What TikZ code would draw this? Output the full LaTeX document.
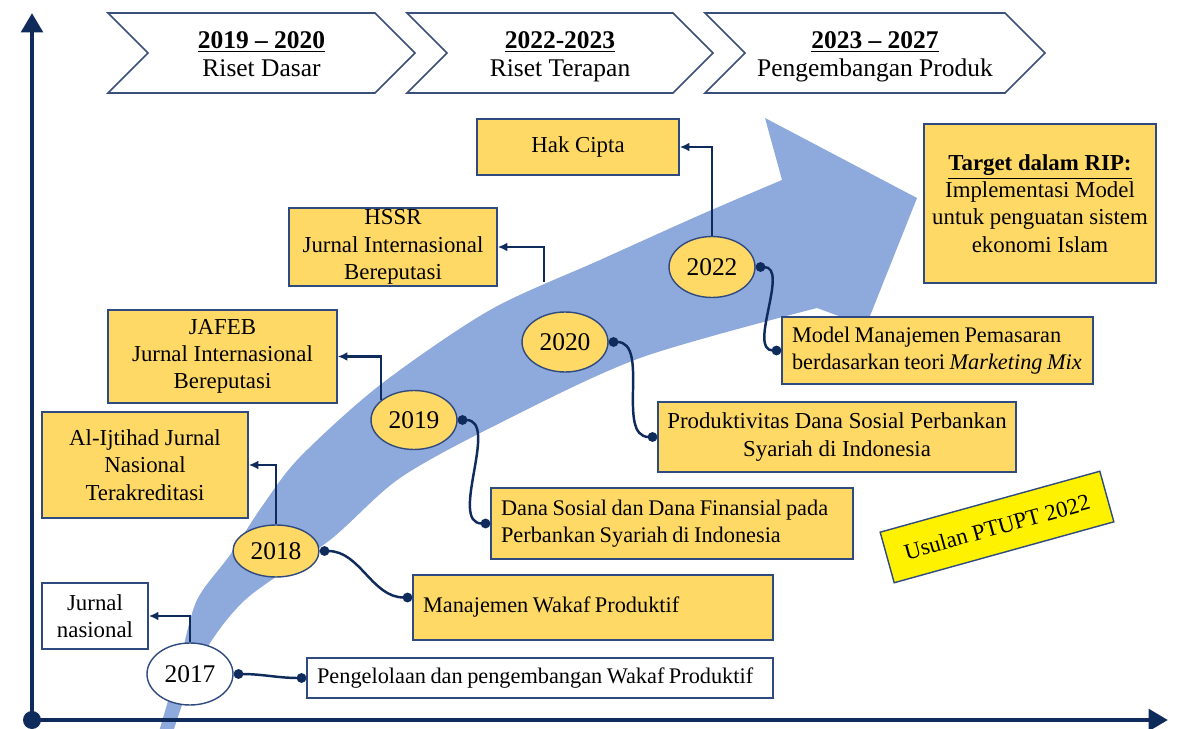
\documentclass[tikz,border=0pt]{standalone}
\usepackage{fontspec}
\setmainfont{Liberation Serif}
\usetikzlibrary{shapes.geometric,arrows.meta,calc}

\definecolor{navy}{HTML}{0F2B5B}
\definecolor{boxline}{HTML}{2F4A7F}
\definecolor{gold}{HTML}{FFD966}
\definecolor{bandblue}{HTML}{8EA9DB}
\definecolor{chevline}{HTML}{3A4F7A}
\newcommand\tightsp{\spaceskip=0.2em\relax}

\begin{document}
\begin{tikzpicture}[x=0.02cm,y=-0.02cm,
    chev/.style={draw=chevline,line width=0.9pt,fill=white},
    year/.style={ellipse,draw=boxline,line width=0.8pt,fill=gold,minimum width=1.72cm,
                 minimum height=1.2cm,inner sep=0pt,font=\fontsize{14.5}{16}\selectfont},
    box/.style={draw=boxline,line width=0.8pt,fill=gold,align=center,inner sep=0pt,
                font=\fontsize{13}{15.5}\selectfont},
    lbox/.style={box,align=left,inner xsep=0.2cm,font=\fontsize{12.7}{15.5}\selectfont,
                 execute at begin node=\tightsp},
    axis/.style={draw=navy,line width=2.8pt,-{Triangle[length=11pt,width=12pt]}}]
\useasboundingbox (0,0) rectangle (1193,729);

% big curved arrow
\fill[bandblue] plot[smooth,tension=0.5] coordinates {(158,735) (180,660) (197,600) (230,555)
      (263,505) (300,457) (380,385) (490,310) (600,260) (700,215) (782,180)}
    -- (765,118) -- (917,198) -- (866,326) -- (817,308)
    -- plot[smooth,tension=0.5] coordinates {(817,308) (640,358) (500,423) (400,478)
      (330,540) (245,600) (200,660) (172,735)} -- cycle;

% axes
\node[circle,fill=navy,minimum size=0.36cm,inner sep=0pt] (O) at (32,720) {};
\coordinate (yend) at (32,13);
\coordinate (xend) at (1168,720);
\draw[axis] (O.center) -- (yend);
\draw[axis] (O.center) -- (xend);

% stages
\foreach \xl/\xr/\txt in {108/375/{\underline{\textbf{2019 – 2020}}\\Riset Dasar\strut},
                          407/673/{\underline{\textbf{2022-2023}}\\Riset Terapan\strut},
                          705/1005/{\underline{\textbf{2023 – 2027}}\\Pengembangan Produk\strut}}
  \draw[chev] (\xl,13) -- (\xr,13) -- (\xr+40,53) -- (\xr,93) -- (\xl,93) -- (\xl+40,53) -- cycle
    node[align=center,font=\fontsize{14.5}{16}\selectfont] at ({(\xl+\xr+40)/2},58) {\txt};

\begin{scope}[every node/.style={year}]
    \node (y17)[fill=white,minimum height=1.24cm] at (190,674) {2017};
    \node (y18)[minimum height=1.04cm] at (276,551) {2018};
    \node (y19)[minimum height=1.18cm] at (414,420) {2019};
    \node (y20) at (565,342) {2020};
    \node (y22)[minimum height=1.22cm] at (712,267) {2022};
\end{scope}

\begin{scope}[every node/.style={box}]
    \node (jn)[fill=white,minimum width=2.12cm,minimum height=1.32cm] at (95,616) {Jurnal\\nasional};
    \node (alij)[minimum width=4.12cm,minimum height=2.12cm] at (145,465) {Al-Ijtihad Jurnal\\Nasional\\Terakreditasi};
    \node (jafeb)[minimum width=4.58cm,minimum height=1.86cm] at (222.5,356.5) {JAFEB\\Jurnal Internasional\\Bereputasi};
    \node (hssr)[minimum width=4.16cm,minimum height=1.56cm] at (393,247) {HSSR\\Jurnal Internasional\\Bereputasi};
    \node (hak)[minimum width=4.04cm,minimum height=1.12cm] at (578,147) {Hak Cipta};
    \node (target)[minimum width=4.64cm,minimum height=3.18cm] at (1040,203.5)
        {\underline{\textbf{Target dalam RIP:}}\\Implementasi Model\\untuk penguatan sistem\\ekonomi Islam};
    \node (prod)[minimum width=7.16cm,minimum height=1.4cm] at (837,437)
        {Produktivitas Dana Sosial Perbankan\\Syariah di Indonesia};
    \node (model)[lbox,text width=5.82cm,minimum height=1.34cm] at (937.5,350.5)
        {\mbox{Model Manajemen Pemasaran}\\\mbox{berdasarkan teori \textit{Marketing Mix}}};
    \node (dana)[lbox,text width=6.84cm,minimum height=1.42cm] at (672,523.5)
        {\mbox{Dana Sosial dan Dana Finansial pada}\\\mbox{Perbankan Syariah di Indonesia}};
    \node (wakaf)[lbox,text width=6.8cm,minimum height=1.3cm] at (593,607.5) {\mbox{Manajemen Wakaf Produktif}};
    \node (pengel)[lbox,fill=white,text width=8.92cm,minimum height=0.8cm] at (540,678)
        {\mbox{Pengelolaan dan pengembangan Wakaf Produktif}};
    \node (usul)[fill=yellow,rotate=15.5,minimum width=4.56cm,minimum height=1.05cm] at (997,527)
        {Usulan PTUPT 2022};
\end{scope}

\coordinate (hfoot) at (544,282);

\begin{scope}[every edge/.style={draw=navy,line width=1.4pt},
              elbow/.style={-{Latex[length=5.5pt,width=5pt]},to path={|- (\tikztotarget)}},
              dots/.style={{Circle[length=5.5pt]}-{Circle[length=5.5pt]},out=0,in=180}]
    \path (y17.north) edge[elbow] (jn.east);
    \path (y18.north) edge[elbow] (alij.east);
    \path (y19.149) edge[elbow] (jafeb.east);
    \path (hfoot) edge[elbow] (hssr.east);
    \path (y22.north) edge[elbow] (hak.east);
    \path (y17.east) edge[dots] (pengel.west);
    \path (y18.east) edge[dots] ($(wakaf.west)+(0,-10)$);
    \path (y19.east) edge[dots] (dana.west);
    \path (y20.east) edge[dots] (prod.west);
    \path (y22.east) edge[dots] (model.west);
\end{scope}
\end{tikzpicture}
\end{document}
